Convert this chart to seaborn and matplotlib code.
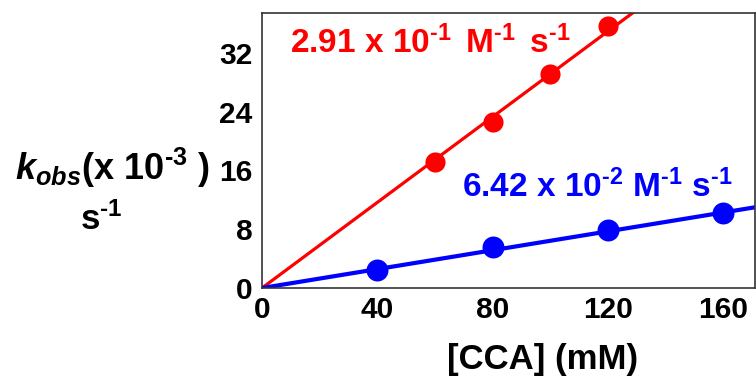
import numpy as np
import pandas as pd
import seaborn as sns
import matplotlib
matplotlib.use("Agg")
import matplotlib.pyplot as plt

# ---- data ----
red_x = [60, 80, 100, 120]
red_y = [17.2, 22.6, 29.1, 35.7]
blue_x = [40, 80, 120, 160]
blue_y = [2.45, 5.58, 7.9, 10.2]
red_slope = 0.291     # x10^-3 s^-1 per mM
blue_slope = 0.0642
red_label = r"2.91 x 10$^{\text{-}1}$$\,$ M$^{\text{-}1}$$\,$ s$^{\text{-}1}$"
blue_label = r"6.42 x 10$^{\text{-}2}$ M$^{\text{-}1}$ s$^{\text{-}1}$"
x_ticks = [0, 40, 80, 120, 160]
y_ticks = [0, 8, 16, 24, 32]
x_lim = (0, 171)
y_lim = (0, 37.4)

sns.set_theme(style="white")
plt.rcParams["font.family"] = ["Liberation Sans", "DejaVu Sans"]
plt.rcParams["font.weight"] = "bold"
plt.rcParams["mathtext.fontset"] = "custom"
plt.rcParams["mathtext.rm"] = "Liberation Sans:bold"
plt.rcParams["mathtext.bf"] = "Liberation Sans:bold"
plt.rcParams["mathtext.it"] = "Liberation Sans:italic:bold"
try:
    plt.rcParams["mathtext.bfit"] = "Liberation Sans:italic:bold"
except KeyError:
    pass
plt.rcParams["mathtext.default"] = "bf"

RED = "#ff0000"
BLUE = "#0000ff"

fig = plt.figure(figsize=(7.56, 3.84), dpi=100)
ax = fig.add_axes([262 / 756, 1 - 288 / 384, (755 - 262) / 756, (288 - 13) / 384])

line_x = np.array([0.0, x_lim[1]])
red_line = pd.DataFrame({"x": line_x, "y": red_slope * line_x})
blue_line = pd.DataFrame({"x": line_x, "y": blue_slope * line_x})

sns.lineplot(data=red_line, x="x", y="y", color=RED, linewidth=2.3, ax=ax)
sns.lineplot(data=blue_line, x="x", y="y", color=BLUE, linewidth=3.0, ax=ax)
sns.scatterplot(x=red_x, y=red_y, color=RED, s=210, edgecolor=RED, linewidth=0, ax=ax, zorder=3)
sns.scatterplot(x=blue_x, y=blue_y, color=BLUE, s=250, edgecolor=BLUE, linewidth=0, ax=ax, zorder=3)

ax.set_xlim(*x_lim)
ax.set_ylim(*y_lim)
ax.set_xticks(x_ticks)
ax.set_yticks(y_ticks)
ax.tick_params(axis="both", which="both", direction="out", length=5, width=1.2,
               color="#333333", labelsize=21.5, pad=1)
ax.tick_params(axis="y", pad=2)
for lab in ax.get_xticklabels() + ax.get_yticklabels():
    lab.set_fontweight("bold")
    lab.set_color("black")
for sp in ax.spines.values():
    sp.set_visible(True)
    sp.set_color("#333333")
    sp.set_linewidth(1.2)

ax.text(9.7, 32.0, red_label, color=RED, fontsize=24, fontweight="bold", ha="left", va="baseline")
ax.text(69.4, 12.4, blue_label, color=BLUE, fontsize=24, fontweight="bold", ha="left", va="baseline")

ax.set_xlabel("[CCA] (mM)", fontsize=25, fontweight="bold", color="black")
ax.xaxis.set_label_coords((543 - 262) / 493, -(360 - 288) / 275)
ax.xaxis.label.set_va("center")
ax.set_ylabel("")

fig.text(112 / 756, 1 - 180 / 384, r"$\mathbfit{k}_{\mathbfit{obs}}$(x 10$^{\text{-}3}$ )",
         fontsize=26, fontweight="bold", ha="center", va="baseline", color="black")
fig.text(101 / 756, 1 - 230 / 384, r"s$^{\text{-}1}$",
         fontsize=25, fontweight="bold", ha="center", va="baseline", color="black")

fig.savefig("out.png", dpi=100)
